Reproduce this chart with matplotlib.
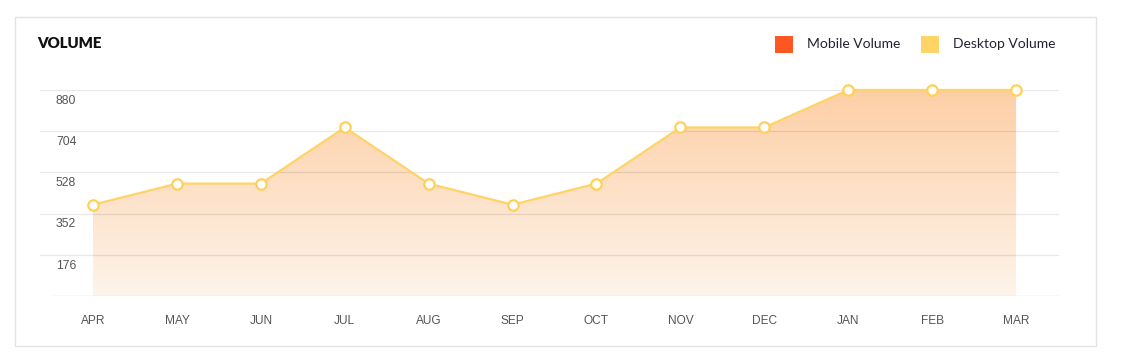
import matplotlib.pyplot as plt
import numpy as np
from matplotlib.patches import Rectangle, Polygon
from matplotlib.colors import LinearSegmentedColormap

# data
months = ["APR", "MAY", "JUN", "JUL", "AUG", "SEP", "OCT", "NOV", "DEC", "JAN", "FEB", "MAR"]
desktop_volume = [390, 480, 480, 720, 480, 390, 480, 720, 720, 880, 880, 880]
y_ticks = [176, 352, 528, 704, 880]
legend_labels = ["Mobile Volume", "Desktop Volume"]
legend_colors = ["#ff5722", "#ffd466"]

W, H = 1123, 359
fig = plt.figure(figsize=(W / 100, H / 100), dpi=100)
fig.patch.set_facecolor("white")

# card border
fig.patches.append(Rectangle((15 / W, 1 - 346 / H), (1096 - 15) / W, (346 - 17) / H,
                             transform=fig.transFigure, fill=False,
                             edgecolor="#e3e3e3", linewidth=1))

# axes: x 40..1059 px, y 90 (880) .. 296 (0)
ax = fig.add_axes([40 / W, 1 - 296 / H, 1019 / W, 206 / H])
ax.set_facecolor("none")
x = np.arange(len(months))
ax.set_xlim(-0.632, 11.512)
ax.set_ylim(0, 880)
for s in ax.spines.values():
    s.set_visible(False)
ax.set_xticks([])
ax.set_yticks([])

# grid lines (drawn over the fill, semi transparent)
for t in y_ticks:
    ax.axhline(t, color=(0, 0, 0, 0.09), linewidth=0.9, zorder=2.5)
    ax.annotate(str(t), xy=(16 / 1019, t), xycoords=("axes fraction", "data"),
                xytext=(0, -3.5), textcoords="offset points", va="top", ha="left",
                fontsize=8.8, color="#555555", family="Liberation Sans")
ax.axhline(0, xmin=11 / 1019, color="#dedede", linewidth=1, zorder=2.5)

# gradient area
cmap = LinearSegmentedColormap.from_list("peach", ["#fef4eb", "#fdcfa6"])
grad = np.linspace(0, 1, 256).reshape(-1, 1)
img = ax.imshow(grad, cmap=cmap, origin="lower", aspect="auto",
                extent=[x[0], x[-1], 0, 880], zorder=2)
poly = Polygon(np.column_stack([np.r_[x, x[-1], x[0]], np.r_[desktop_volume, 0, 0]]),
               closed=True, facecolor="none", edgecolor="none")
ax.add_patch(poly)
img.set_clip_path(poly)

ax.plot(x, desktop_volume, color="#ffd466", linewidth=1.6, zorder=3, clip_on=False)
ax.plot(x, desktop_volume, linestyle="none", marker="o", markersize=7.5,
        markerfacecolor="white", markeredgecolor="#ffd05a", markeredgewidth=1.6,
        zorder=4, clip_on=False)

# month labels
for i, m in enumerate(months):
    ax.annotate(m, xy=(i, 0), xycoords="data", xytext=(0, -18), textcoords="offset points",
                ha="center", va="center", fontsize=8.6, color="#555555",
                family="Liberation Sans", annotation_clip=False)

# title
fig.text(37 / W, 1 - 43 / H, "VOLUME", fontsize=10.8, fontweight="heavy",
         family="Lato", color="#111111", va="center", ha="left")

# legend
leg_x = [775, 921]
text_x = [807, 953]
for lx, tx, lab, col in zip(leg_x, text_x, legend_labels, legend_colors):
    fig.patches.append(Rectangle((lx / W, 1 - 53 / H), 18 / W, 17 / H,
                                 transform=fig.transFigure, facecolor=col, edgecolor="none"))
    fig.text(tx / W, 1 - 44 / H, lab, fontsize=10, family="Lato", color="#222233",
             va="center", ha="left")

plt.savefig("out.png", dpi=100)
